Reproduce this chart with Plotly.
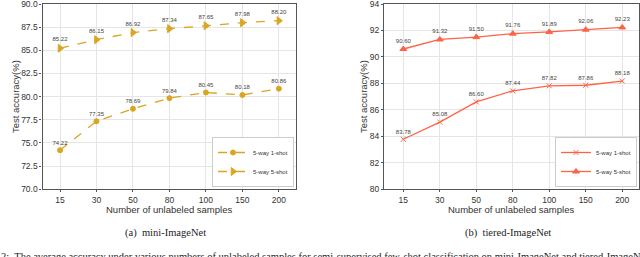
import plotly.graph_objects as go

samples = ["15", "30", "50", "80", "100", "150", "200"]
mini_1shot = [74.22, 77.35, 78.69, 79.84, 80.45, 80.18, 80.86]
mini_5shot = [85.22, 86.15, 86.92, 87.34, 87.65, 87.98, 88.20]
tiered_1shot = [83.78, 85.08, 86.60, 87.44, 87.82, 87.86, 88.18]
tiered_5shot = [90.60, 91.32, 91.50, 91.76, 91.89, 92.06, 92.23]
mini_ticks = [70.0, 72.5, 75.0, 77.5, 80.0, 82.5, 85.0, 87.5, 90.0]
tiered_ticks = [80, 82, 84, 86, 88, 90, 92, 94]

W, H = 640, 257
GOLD = "#DAA520"
TOMATO = "#FF6347"
TXT = "#333333"
FONT = "Liberation Sans, Arial, sans-serif"
SERIF = "Liberation Serif, Times New Roman, serif"

def px_x(p):
    return p / W

def px_y(p):
    return 1 - p / H

fig = go.Figure()

def add_series(x, y, name, color, dash, symbol, xa, ya, legend, msize):
    fig.add_trace(go.Scatter(
        x=x, y=y, name=name, mode="lines+markers+text",
        line=dict(color=color, width=1.3, dash=dash),
        marker=dict(color=color, symbol=symbol, size=msize,
                    line=dict(color=color, width=1)),
        text=[f"{v:.2f}" for v in y], textposition="top center",
        textfont=dict(size=6, color="#444444", family=FONT),
        xaxis=xa, yaxis=ya, legend=legend, cliponaxis=False,
    ))

add_series(samples, mini_1shot, "5-way 1-shot", GOLD, "dash", "circle", "x", "y", "legend", 5)
add_series(samples, mini_5shot, "5-way 5-shot", GOLD, "dash", "triangle-right", "x", "y", "legend", 7)
add_series(samples, tiered_1shot, "5-way 1-shot", TOMATO, "solid", "x-thin", "x2", "y2", "legend2", 5)
add_series(samples, tiered_5shot, "5-way 5-shot", TOMATO, "solid", "triangle-up", "x2", "y2", "legend2", 6)

axis_common = dict(
    showline=True, mirror=True, linecolor="#555555", linewidth=1.2,
    showgrid=True, gridcolor="#E5E5E5", gridwidth=1,
    ticks="outside", ticklen=2, tickcolor="#555555",
    tickfont=dict(size=8.5, color=TXT, family=FONT), zeroline=False,
    automargin=False, ticklabeloverflow="allow",
)

ydom = [px_y(189.3), px_y(4)]

fig.update_layout(
    width=W, height=H, margin=dict(l=0, r=0, t=0, b=0, pad=0),
    paper_bgcolor="white", plot_bgcolor="white",
    font=dict(family=FONT, color=TXT),
    xaxis=dict(domain=[px_x(42.5), px_x(296)], type="category", range=[-0.48, 6.47],
               **axis_common),
    yaxis=dict(domain=ydom, range=[70, 90], tickvals=mini_ticks,
               ticktext=[f"{v:.1f}" for v in mini_ticks], **axis_common),
    xaxis2=dict(domain=[px_x(384), px_x(639)], type="category", range=[-0.53, 6.46], anchor="y2",
                **axis_common),
    yaxis2=dict(domain=ydom, range=[80, 94], tickvals=tiered_ticks, anchor="x2",
                **axis_common),
    legend=dict(x=px_x(294), y=px_y(187), xanchor="right", yanchor="bottom",
                bgcolor="white", bordercolor="#CCCCCC", borderwidth=1,
                font=dict(size=6, color=TXT), itemwidth=30, tracegroupgap=0),
    legend2=dict(x=px_x(637), y=px_y(187), xanchor="right", yanchor="bottom",
                 bgcolor="white", bordercolor="#CCCCCC", borderwidth=1,
                 font=dict(size=6, color=TXT), itemwidth=30, tracegroupgap=0),
    showlegend=True,
)

def ann(text, xp, yp, size, family=FONT, angle=0, color=TXT, xanchor="center"):
    fig.add_annotation(text=text, x=px_x(xp), y=px_y(yp), xref="paper", yref="paper",
                       showarrow=False, textangle=angle, xanchor=xanchor, yanchor="middle",
                       borderpad=0, font=dict(size=size, family=family, color=color))

ann("Number of unlabeled samples", 169, 209, 9.5)
ann("Number of unlabeled samples", 511, 209, 9.5)
ann("Test accuracy(%)", 15, 97, 9.5, angle=-90)
ann("Test accuracy(%)", 363, 97, 9.5, angle=-90)
ann("(a)  mini-ImageNet", 165, 233, 10.5, family=SERIF, color="#222222")
ann("(b)  tiered-ImageNet", 508, 233, 10.5, family=SERIF, color="#222222")
ann("2:  The average accuracy under various numbers of unlabeled samples for semi-supervised few-shot classification on mini-ImageNet and tiered-ImageNet",
    0, 256, 10.5, family=SERIF, color="#222222", xanchor="left")

fig.write_html("out.html", config={"displayModeBar": False},
               post_script="document.body.style.margin='0';document.body.style.overflow='hidden';")
